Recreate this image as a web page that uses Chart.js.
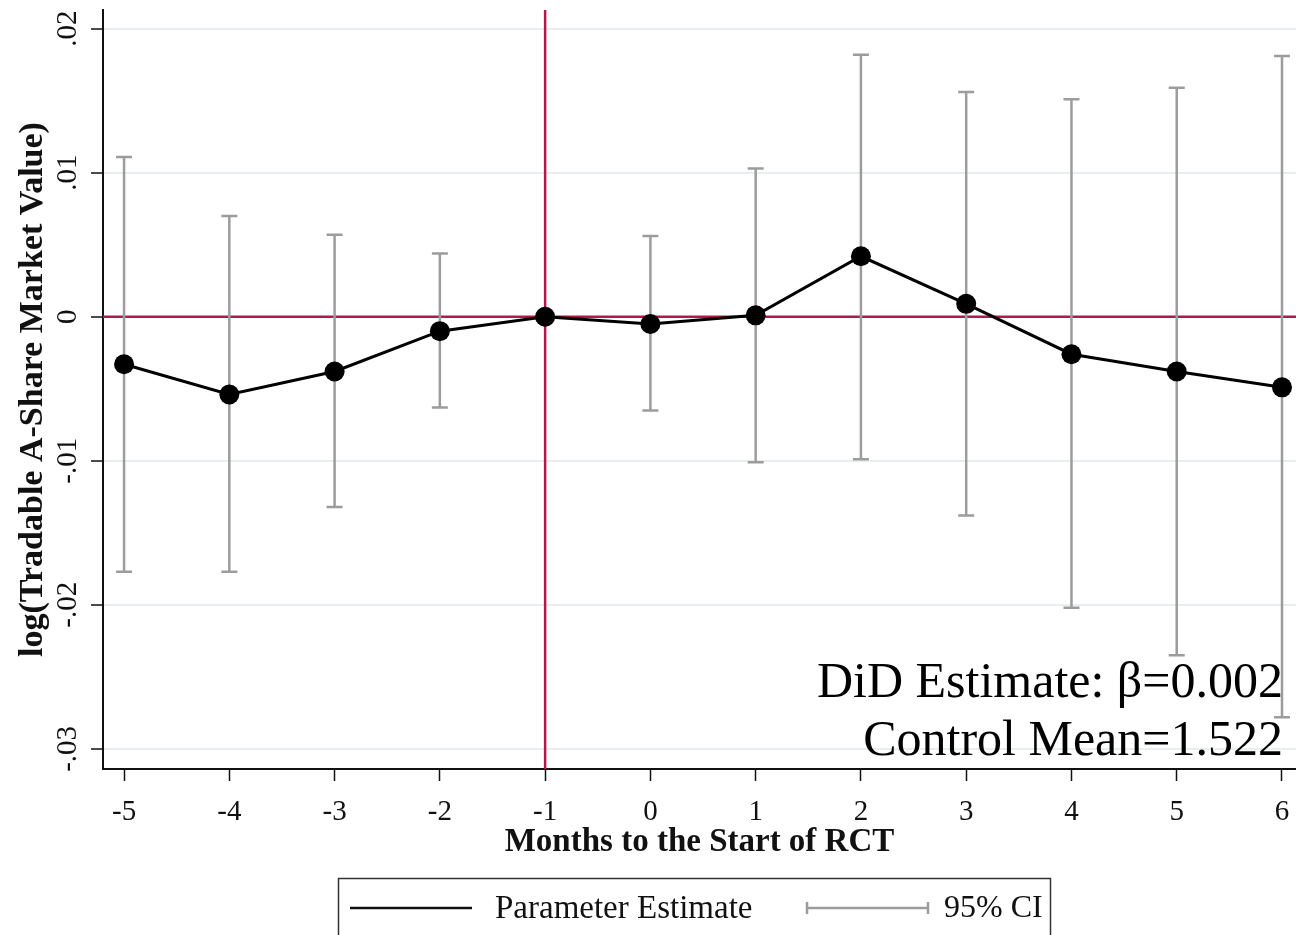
<!DOCTYPE html>
<html>
<head>
<meta charset="utf-8">
<script src="https://cdn.jsdelivr.net/npm/chart.js@4/dist/chart.umd.min.js"></script>
<style>
  html, body { margin: 0; padding: 0; background: #fff; }
</style>
</head>
<body>
<canvas id="did-chart" width="1296" height="935"></canvas>
<script>
"use strict";

/* data */
var months = [-5, -4, -3, -2, -1, 0, 1, 2, 3, 4, 5, 6];
var estimates = [-0.0033, -0.0054, -0.0038, -0.0010, 0, -0.0005, 0.0001, 0.0042, 0.0009, -0.0026, -0.0038, -0.0049];
var ciLow = [-0.0177, -0.0177, -0.0132, -0.0063, null, -0.0065, -0.0101, -0.0099, -0.0138, -0.0202, -0.0235, -0.0278];
var ciHigh = [0.0111, 0.0070, 0.0057, 0.0044, null, 0.0056, 0.0103, 0.0182, 0.0156, 0.0151, 0.0159, 0.0181];
var yTicks = [-0.03, -0.02, -0.01, 0, 0.01, 0.02];
var yTickLabels = ["-.03", "-.02", "-.01", "0", ".01", ".02"];
var refMonth = -1;
var noteLines = ["DiD Estimate: \u03b2=0.002", "Control Mean=1.522"];

var SERIF = "'Liberation Serif', 'Times New Roman', serif";
var RED = "#b3174c";
var CI_GREY = "#9c9c9c";

/* red reference lines + CI whiskers, under the estimate line */
var ciPlugin = {
    id: "ciBars",
    beforeDatasetsDraw: function (chart) {
        var ctx = chart.ctx;
        var xs = chart.scales.x;
        var ys = chart.scales.y;
        var area = chart.chartArea;
        ctx.save();

        ctx.strokeStyle = RED;
        ctx.lineWidth = 2.5;
        ctx.beginPath();
        var y0 = ys.getPixelForValue(0);
        ctx.moveTo(area.left, y0);
        ctx.lineTo(area.right, y0);
        var xr = xs.getPixelForValue(refMonth);
        ctx.moveTo(xr, area.top);
        ctx.lineTo(xr, area.bottom);
        ctx.stroke();

        ctx.strokeStyle = CI_GREY;
        ctx.lineWidth = 2.5;
        for (var i = 0; i < months.length; i++) {
            if (ciLow[i] === null) continue;
            var x = xs.getPixelForValue(months[i]);
            var yl = ys.getPixelForValue(ciLow[i]);
            var yh = ys.getPixelForValue(ciHigh[i]);
            ctx.beginPath();
            ctx.moveTo(x, yl);
            ctx.lineTo(x, yh);
            ctx.moveTo(x - 8, yl);
            ctx.lineTo(x + 8, yl);
            ctx.moveTo(x - 8, yh);
            ctx.lineTo(x + 8, yh);
            ctx.stroke();
        }
        ctx.restore();
    },
    afterDraw: function (chart) {
        var ctx = chart.ctx;
        ctx.save();
        // note in the lower right
        ctx.fillStyle = "#000";
        ctx.font = "50px " + SERIF;
        ctx.textAlign = "right";
        ctx.textBaseline = "alphabetic";
        ctx.fillText(noteLines[0], 1283, 697);
        ctx.fillText(noteLines[1], 1283, 755);

        // legend box
        ctx.strokeStyle = "#333";
        ctx.lineWidth = 1.5;
        ctx.strokeRect(338.5, 878.5, 712, 70);
        ctx.strokeStyle = "#111";
        ctx.lineWidth = 2.5;
        ctx.beginPath();
        ctx.moveTo(350, 908);
        ctx.lineTo(472, 908);
        ctx.stroke();
        ctx.strokeStyle = CI_GREY;
        ctx.lineWidth = 2.5;
        ctx.beginPath();
        ctx.moveTo(806, 908);
        ctx.lineTo(929, 908);
        ctx.moveTo(807, 902);
        ctx.lineTo(807, 914);
        ctx.moveTo(928, 902);
        ctx.lineTo(928, 914);
        ctx.stroke();
        ctx.fillStyle = "#111";
        ctx.textAlign = "left";
        ctx.textBaseline = "middle";
        ctx.font = "33px " + SERIF;
        ctx.fillText("Parameter Estimate", 495, 909);
        ctx.font = "32px " + SERIF;
        ctx.fillText("95% CI", 944, 909);
        ctx.restore();
    }
};

var ctx = document.getElementById("did-chart").getContext("2d");
var didChart = new Chart(ctx, {
    type: "line",
    data: {
        datasets: [
            {
                label: "Parameter Estimate",
                data: months.map(function (m, i) { return { x: m, y: estimates[i] }; }),
                borderColor: "#000",
                borderWidth: 3,
                pointRadius: 10,
                pointBackgroundColor: "#000",
                pointBorderColor: "#000",
                pointBorderWidth: 0,
                tension: 0,
                clip: false,
            },
        ],
    },
    options: {
        responsive: false,
        animation: false,
        devicePixelRatio: 1,
        layout: { autoPadding: false, padding: { top: 10, right: 0, bottom: 73, left: 0 } },
        plugins: {
            legend: { display: false },
            tooltip: { enabled: false },
        },
        scales: {
            x: {
                type: "linear",
                min: -5.2,
                max: 6.133,
                afterBuildTicks: function (scale) {
                    scale.ticks = months.map(function (m) { return { value: m }; });
                },
                afterFit: function (scale) {
                    scale.height = 93;
                    scale.paddingLeft = 0;
                    scale.paddingRight = 0;
                },
                ticks: {
                    color: "#111",
                    font: { family: SERIF, size: 29 },
                    padding: 14,
                    maxRotation: 0,
                    callback: function (v) { return String(v); },
                },
                grid: {
                    drawOnChartArea: false,
                    tickLength: 12,
                    tickColor: "#111",
                    tickWidth: 1.5,
                },
                border: { color: "#111", width: 2 },
                title: {
                    display: true,
                    text: "Months to the Start of RCT",
                    color: "#111",
                    font: { family: SERIF, size: 33, weight: "bold" },
                    padding: { top: 0, bottom: 0 },
                },
            },
            y: {
                type: "linear",
                min: -0.0314,
                max: 0.0213,
                afterBuildTicks: function (scale) {
                    scale.ticks = yTicks.map(function (v) { return { value: v }; });
                },
                afterFit: function (scale) {
                    scale.width = 103;
                    scale.paddingTop = 0;
                    scale.paddingBottom = 0;
                },
                ticks: {
                    color: "#111",
                    font: { family: SERIF, size: 29 },
                    padding: 0,
                    minRotation: 90,
                    maxRotation: 90,
                    crossAlign: "center",
                    callback: function (v, i) { return yTickLabels[i]; },
                },
                grid: {
                    color: "#e9eef0",
                    lineWidth: 2,
                    tickLength: 12,
                    tickColor: "#111",
                    tickWidth: 1.5,
                },
                border: { color: "#111", width: 2 },
                title: {
                    display: true,
                    text: "log(Tradable A-Share Market Value)",
                    color: "#111",
                    font: { family: SERIF, size: 34, weight: "bold" },
                    padding: { top: 13, bottom: 0 },
                },
            },
        },
    },
    plugins: [ciPlugin],
});
</script>
</body>
</html>
